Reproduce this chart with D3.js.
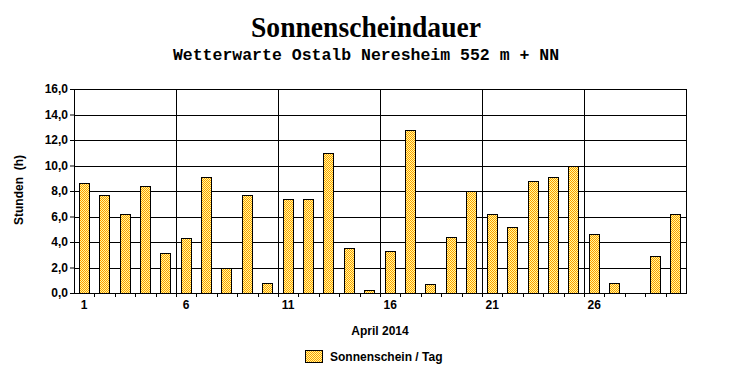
<!DOCTYPE html>
<html>
<head>
<meta charset="utf-8">
<script src="https://cdn.jsdelivr.net/npm/d3@7/dist/d3.min.js"></script>
<style>
  body { margin: 0; background: #fff; }
  text { font-family: Arial, "Liberation Sans", sans-serif; }
</style>
</head>
<body>
<script>
var days = d3.range(1, 31);
var sunHours = [8.6,7.7,6.2,8.4,3.1,4.3,9.1,2.0,7.7,0.8,
                7.4,7.4,11.0,3.5,0.2,3.3,12.8,0.7,4.4,8.0,
                6.2,5.2,8.8,9.1,10.0,4.6,0.8,0,2.9,6.2];
var dayLabels = [1, 6, 11, 16, 21, 26];
var yTicks = [0, 2, 4, 6, 8, 10, 12, 14, 16];

const width = 732, height = 380;
const margin = { left: 74, right: 46, top: 89, bottom: 87 };

const svg = d3.select("body").append("svg")
    .attr("width", width)
    .attr("height", height);

// checkered fill
const pat = svg.append("defs").append("pattern")
    .attr("id", "checker")
    .attr("patternUnits", "userSpaceOnUse")
    .attr("width", 2).attr("height", 2);
pat.append("rect").attr("width", 2).attr("height", 2).attr("fill", "#ffff99");
pat.append("rect").attr("width", 1).attr("height", 1).attr("fill", "#ff9900");
pat.append("rect").attr("x", 1).attr("y", 1).attr("width", 1).attr("height", 1).attr("fill", "#ff9900");

const x = d3.scaleBand()
    .domain(days)
    .range([margin.left, width - margin.right]);

const y = d3.scaleLinear()
    .domain([0, 16])
    .range([height - margin.bottom, margin.top]);

const x0 = margin.left, x1 = width - margin.right;
const y0 = height - margin.bottom, y1 = margin.top;

// horizontal grid
svg.append("g")
    .selectAll("line")
    .data(yTicks)
    .join("line")
    .attr("x1", x0).attr("x2", x1)
    .attr("y1", d => Math.round(y(d)) + 0.5).attr("y2", d => Math.round(y(d)) + 0.5)
    .attr("stroke", "#000");

// vertical grid every 5 days
svg.append("g")
    .selectAll("line")
    .data([6, 11, 16, 21, 26])
    .join("line")
    .attr("x1", d => Math.round(x(d)) + 0.5).attr("x2", d => Math.round(x(d)) + 0.5)
    .attr("y1", y1).attr("y2", y0)
    .attr("stroke", "#000");

// frame
svg.append("rect")
    .attr("x", x0 + 0.5).attr("y", y1 + 0.5)
    .attr("width", x1 - x0).attr("height", y0 - y1)
    .attr("fill", "none").attr("stroke", "#000");

// bars: pixel-aligned fill, then outline
const bw = Math.round(x.bandwidth() * 0.52);
const bars = days.filter((d, i) => sunHours[i] > 0);
const bx = d => Math.round(x(d) + (x.bandwidth() - bw) / 2);
const by = d => Math.round(y(sunHours[d - 1]));

svg.append("g")
    .selectAll("rect")
    .data(bars)
    .join("rect")
    .attr("x", bx)
    .attr("y", by)
    .attr("width", bw)
    .attr("height", d => y0 - by(d))
    .attr("fill", "url(#checker)");

svg.append("g")
    .selectAll("rect")
    .data(bars)
    .join("rect")
    .attr("x", d => bx(d) + 0.5)
    .attr("y", d => by(d) + 0.5)
    .attr("width", bw - 1)
    .attr("height", d => y0 - by(d))
    .attr("fill", "none")
    .attr("stroke", "#000");

// y axis
const yAxis = d3.axisLeft(y)
    .tickValues(yTicks)
    .tickSize(4)
    .tickPadding(2)
    .tickFormat(d => d3.format(".1f")(d).replace(".", ","));

svg.append("g")
    .attr("class", "yAxis")
    .attr("transform", `translate(${x0}, 0)`)
    .call(yAxis)
    .call(a => a.select(".domain").remove())
    .call(a => a.selectAll("line").attr("stroke", "#000"))
    .selectAll("text")
    .attr("font-size", 12).attr("font-weight", "bold").attr("fill", "#000");

// x axis ticks at band boundaries
svg.append("g")
    .selectAll("line")
    .data(days.slice(1))
    .join("line")
    .attr("x1", d => Math.round(x(d)) + 0.5).attr("x2", d => Math.round(x(d)) + 0.5)
    .attr("y1", y0).attr("y2", y0 + 4)
    .attr("stroke", "#000");

svg.append("g")
    .selectAll("text")
    .data(dayLabels)
    .join("text")
    .attr("x", d => x(d) + x.bandwidth() / 2)
    .attr("y", y0 + 16)
    .attr("text-anchor", "middle")
    .attr("font-size", 12).attr("font-weight", "bold")
    .text(d => d);

// titles
svg.append("text")
    .attr("x", 366).attr("y", 37)
    .attr("text-anchor", "middle")
    .style("font-family", "'Liberation Serif', 'Times New Roman', serif")
    .attr("font-size", 30).attr("font-weight", "bold")
    .attr("transform", "translate(366,0) scale(0.92,1) translate(-366,0)")
    .text("Sonnenscheindauer");

svg.append("text")
    .attr("x", 366).attr("y", 60)
    .attr("text-anchor", "middle")
    .style("font-family", "'Liberation Mono', 'Courier New', monospace")
    .attr("font-size", 16.5).attr("font-weight", "bold")
    .text("Wetterwarte Ostalb Neresheim 552 m + NN");

svg.append("text")
    .attr("transform", "translate(23,190) rotate(-90)")
    .attr("text-anchor", "middle")
    .attr("font-size", 12).attr("font-weight", "bold")
    .attr("xml:space", "preserve")
    .text("Stunden  (h)");

svg.append("text")
    .attr("x", 380).attr("y", 335)
    .attr("text-anchor", "middle")
    .attr("font-size", 12).attr("font-weight", "bold")
    .text("April 2014");

// legend
svg.append("rect")
    .attr("x", 305).attr("y", 350)
    .attr("width", 18).attr("height", 13)
    .attr("fill", "url(#checker)");
svg.append("rect")
    .attr("x", 305.5).attr("y", 350.5)
    .attr("width", 17).attr("height", 12)
    .attr("fill", "none").attr("stroke", "#000");

svg.append("text")
    .attr("x", 330).attr("y", 361)
    .attr("font-size", 12).attr("font-weight", "bold")
    .text("Sonnenschein / Tag");
</script>
</body>
</html>
